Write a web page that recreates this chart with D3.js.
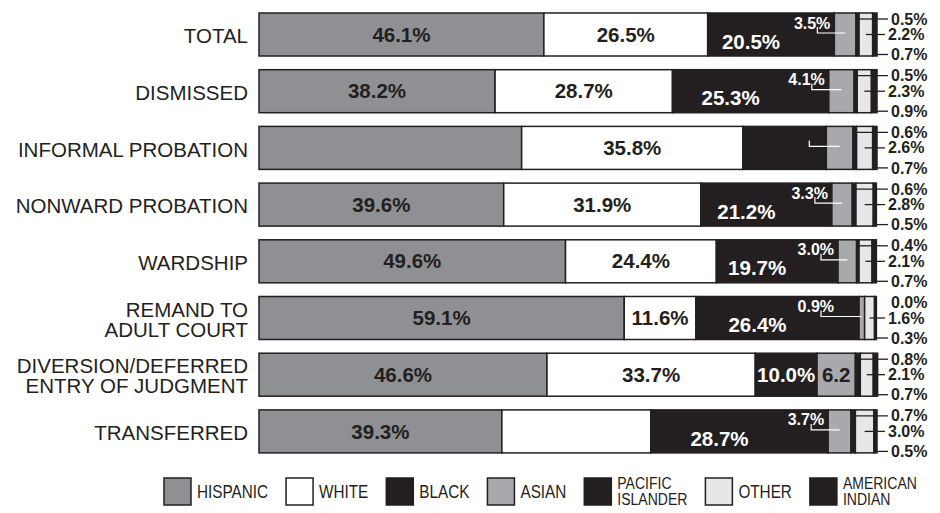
<!DOCTYPE html>
<html>
<head>
<meta charset="utf-8">
<script src="https://cdn.jsdelivr.net/npm/d3@7"></script>
<style>
body { margin: 0; background: #fff; }
svg { display: block; font-family: "Liberation Sans", Arial, Helvetica, sans-serif; }
</style>
</head>
<body>
<svg id="chart" width="940" height="513"></svg>
<script>
const categories = ["TOTAL", "DISMISSED", "INFORMAL PROBATION", "NONWARD PROBATION", "WARDSHIP",
    "REMAND TO ADULT COURT", "DIVERSION/DEFERRED ENTRY OF JUDGMENT", "TRANSFERRED"];
const categoryLines = [["TOTAL"], ["DISMISSED"], ["INFORMAL PROBATION"], ["NONWARD PROBATION"], ["WARDSHIP"],
    ["REMAND TO", "ADULT COURT"], ["DIVERSION/DEFERRED", "ENTRY OF JUDGMENT"], ["TRANSFERRED"]];
const groups = ["HISPANIC", "WHITE", "BLACK", "ASIAN", "PACIFIC ISLANDER", "OTHER", "AMERICAN INDIAN"];
const legendLines = [["HISPANIC"], ["WHITE"], ["BLACK"], ["ASIAN"], ["PACIFIC", "ISLANDER"], ["OTHER"], ["AMERICAN", "INDIAN"]];

const hispanic = [46.1, 38.2, 42.5, 39.6, 49.6, 59.1, 46.6, 39.3];
const white    = [26.5, 28.7, 35.8, 31.9, 24.4, 11.6, 33.7, 24.1];
const black    = [20.5, 25.3, 13.5, 21.2, 19.7, 26.4, 10.0, 28.7];
const asian    = [3.5, 4.1, 4.3, 3.3, 3.0, 0.9, 6.2, 3.7];
const pacific  = [0.5, 0.5, 0.6, 0.6, 0.4, 0.0, 0.8, 0.7];
const other    = [2.2, 2.3, 2.6, 2.8, 2.1, 1.6, 2.1, 3.0];
const amIndian = [0.7, 0.9, 0.7, 0.5, 0.7, 0.3, 0.7, 0.5];

// labels the original leaves unprinted
const unprinted = ["INFORMAL PROBATION|HISPANIC", "INFORMAL PROBATION|BLACK",
    "INFORMAL PROBATION|ASIAN", "TRANSFERRED|WHITE"];

const dark = "#231f20";
const colors = ["#8f9093", "#ffffff", dark, "#a7a9ac", dark, "#e6e7e8", dark];

const rows = categories.map((c, i) => ({
    category: c,
    "HISPANIC": hispanic[i], "WHITE": white[i], "BLACK": black[i], "ASIAN": asian[i],
    "PACIFIC ISLANDER": pacific[i], "OTHER": other[i], "AMERICAN INDIAN": amIndian[i]
}));

const svg = d3.select("#chart");

const x = d3.scaleLinear().domain([0, 100]).range([259, 877]);
const y = d3.scaleBand().domain(categories).range([-0.7, 466.6]).paddingInner(0.2416).paddingOuter(0.2416);
const color = d3.scaleOrdinal().domain(groups).range(colors);

const series = d3.stack().keys(groups)(rows);
const shown = (cat, key) => unprinted.indexOf(cat + "|" + key) < 0;
const seg = (key, i) => series[groups.indexOf(key)][i];
const bw = y.bandwidth();

// category labels
categories.forEach((c, i) => {
    const lines = categoryLines[i];
    const t = svg.append("text")
        .attr("x", 248)
        .attr("y", y(c) + bw / 2 + 1.5)
        .attr("text-anchor", "end")
        .style("font-size", "20.5px")
        .style("fill", dark);
    lines.forEach((l, j) => {
        t.append("tspan")
            .attr("x", 248)
            .attr("dy", j === 0 ? (0.35 - (lines.length - 1) * 0.49) + "em" : "0.98em")
            .text(l);
    });
});

// bars
svg.append("g")
    .selectAll("g")
    .data(series)
    .enter()
    .append("g")
    .attr("fill", d => color(d.key))
    .selectAll("rect")
    .data(d => d)
    .enter()
    .append("rect")
    .attr("x", d => x(d[0]))
    .attr("y", d => y(d.data.category))
    .attr("width", d => x(d[1]) - x(d[0]))
    .attr("height", bw)
    .attr("stroke", dark)
    .attr("stroke-width", 1.5);

const labels = svg.append("g").style("font-weight", "bold");

rows.forEach((r, i) => {
    const c = r.category;
    const top = y(c), mid = top + bw / 2, bottom = top + bw;
    const centerOf = s => (x(s[0]) + x(s[1])) / 2;

    // hispanic and white
    ["HISPANIC", "WHITE"].forEach(k => {
        if (!shown(c, k)) return;
        labels.append("text")
            .attr("x", centerOf(seg(k, i)))
            .attr("y", mid)
            .attr("dy", "0.35em")
            .attr("text-anchor", "middle")
            .style("font-size", "20.5px")
            .style("fill", dark)
            .text(r[k].toFixed(1) + "%");
    });

    const bs = seg("BLACK", i), as = seg("ASIAN", i);
    const callout = r["ASIAN"] < 5;

    if (shown(c, "BLACK")) {
        labels.append("text")
            .attr("x", centerOf(bs) - (callout ? 20 : 0))
            .attr("y", mid + (callout ? 7 : 0))
            .attr("dy", "0.35em")
            .attr("text-anchor", "middle")
            .style("font-size", "20.5px")
            .style("fill", "#fff")
            .text(r["BLACK"].toFixed(1) + "%");
    }

    if (callout) {
        const tEnd = Math.min(x(as[0]) - 4, 834);
        if (shown(c, "ASIAN")) {
            labels.append("text")
                .attr("x", tEnd)
                .attr("y", top + 10)
                .attr("dy", "0.35em")
                .attr("text-anchor", "end")
                .style("font-size", "16px")
                .style("fill", "#fff")
                .text(r["ASIAN"].toFixed(1) + "%");
        }
        svg.append("path")
            .attr("d", d3.line()([[tEnd - 13, top + 14], [tEnd - 13, top + 20], [centerOf(as), top + 20]]))
            .attr("fill", "none")
            .attr("stroke", "#fff")
            .attr("stroke-width", 1.2);
    } else {
        labels.append("text")
            .attr("x", centerOf(as))
            .attr("y", mid)
            .attr("dy", "0.35em")
            .attr("text-anchor", "middle")
            .style("font-size", "20.5px")
            .style("fill", dark)
            .text(r["ASIAN"].toFixed(1));
    }

    // small groups on the right
    const side = [
        {key: "PACIFIC ISLANDER", ly: top + 6, tx: 891},
        {key: "OTHER", ly: mid, tx: 888},
        {key: "AMERICAN INDIAN", ly: bottom - 1.5, tx: 891}
    ];
    side.forEach(s => {
        const v = r[s.key];
        if (v > 0) {
            svg.append("line")
                .attr("x1", centerOf(seg(s.key, i)))
                .attr("x2", s.tx - 3)
                .attr("y1", s.ly)
                .attr("y2", s.ly)
                .attr("stroke", dark)
                .attr("stroke-width", 1.3);
        }
        labels.append("text")
            .attr("x", s.tx)
            .attr("y", s.ly)
            .attr("dy", "0.35em")
            .style("font-size", "16px")
            .style("fill", dark)
            .text(v.toFixed(1) + "%");
    });
});

// legend
const legend = svg.append("g");
let lx = 164;
const sq = 27, ly = 478, squeeze = 0.85;
groups.forEach((g, i) => {
    legend.append("rect")
        .attr("x", lx)
        .attr("y", ly)
        .attr("width", sq)
        .attr("height", sq)
        .attr("fill", color(g))
        .attr("stroke", dark)
        .attr("stroke-width", 1.5);
    const lines = legendLines[i];
    const tx = lx + sq + 6;
    const t = legend.append("text")
        .attr("transform", "translate(" + tx + "," + (ly + sq / 2) + ") scale(" + squeeze + ",1)")
        .style("font-size", lines.length > 1 ? "16.5px" : "18px")
        .style("fill", dark);
    lines.forEach((l, j) => {
        t.append("tspan")
            .attr("x", 0)
            .attr("dy", j === 0 ? (0.35 - (lines.length - 1) * 0.48) + "em" : "0.96em")
            .text(l);
    });
    const w = d3.max(t.selectAll("tspan").nodes(), n => n.getComputedTextLength()) * squeeze;
    lx = tx + w + 18;
});
</script>
</body>
</html>
